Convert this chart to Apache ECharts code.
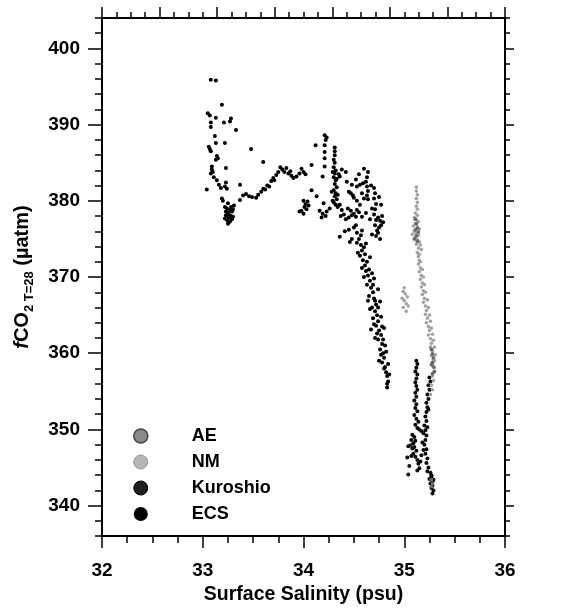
<!DOCTYPE html>
<html>
<head>
<meta charset="utf-8">
<script src="https://cdn.jsdelivr.net/npm/echarts@6/dist/echarts.min.js"></script>
<style>
  html, body { margin: 0; padding: 0; background: #fff; }
  #chart { width: 561px; height: 610px; }
</style>
</head>
<body>
<div id="chart"></div>
<script>
// Surface salinity (psu) vs fCO2 normalised to 28 °C (µatm), by water mass
const seriesNames = ['AE', 'NM', 'Kuroshio', 'ECS'];
const xTickLabels = [32, 33, 34, 35, 36];
const yTickLabels = [340, 350, 360, 370, 380, 390, 400];
const yMinorTicks = [336, 338, 340, 342, 344, 346, 348, 350, 352, 354, 356, 358, 360, 362, 364, 366, 368, 370,
  372, 374, 376, 378, 380, 382, 384, 386, 388, 390, 392, 394, 396, 398, 400, 402, 404];

// East China Sea shelf water
const ecs = [
  [33.08,395.9],[33.13,395.8],[33.19,392.6],[33.05,391.5],[33.07,391.2],[33.13,390.9],[33.08,390.3],[33.08,389.7],
  [33.21,390.3],[33.28,390.8],[33.27,390.4],[33.33,389.3],[33.12,388.5],[33.13,387.6],[33.22,387.6],[33.06,387.1],
  [33.07,386.8],[33.08,386.5],[33.48,386.8],[33.14,385.9],[33.15,385.6],[33.13,385.4],[33.60,385.1],[33.09,384.5],
  [33.09,384.1],[33.10,383.8],[33.08,383.6],[33.23,384.3],[33.11,383.1],[33.14,382.7],[33.04,381.5],[33.16,382.1],
  [33.18,381.7],[33.23,382.4],[33.22,381.9],[33.24,381.6],[33.37,382.1],[33.19,380.3],[33.20,380.0],[33.25,379.7],
  [33.22,379.2],[33.24,379.0],[33.27,378.8],[33.25,378.4],[33.29,378.6],[33.23,378.1],[33.26,377.8],[33.28,378.0],
  [33.24,377.5],[33.27,377.3],[33.30,378.9],[33.31,379.4],[33.25,377.0],[33.26,377.2],[33.29,377.6],
  [33.23,378.6],[33.28,379.2],[33.26,378.2],[33.30,377.9],[33.22,377.7],
  [33.37,380.1],[33.40,380.7],[33.43,380.9],[33.46,380.6],[33.49,380.5],[33.53,380.4],[33.55,380.8],[33.58,381.2],
  [33.60,381.6],[33.62,381.5],[33.64,382.0],[33.66,381.9],[33.68,382.6],[33.70,383.0],[33.71,382.7],[33.73,383.4],
  [33.75,383.8],[33.77,384.4],[33.79,384.1],[33.81,383.8],[33.83,384.3],[33.85,383.6],[33.87,383.9],[33.88,383.3],
  [33.90,383.0],[33.93,383.2],[33.96,383.6],[33.98,384.2],[34.00,383.8],[34.02,383.5],[33.96,378.6],
  [34.08,384.7],[34.12,387.3],[34.21,388.6],[34.23,388.3],[34.22,388.0],[34.21,387.3],[34.21,386.4],[34.21,385.6],
  [34.21,384.5],[34.19,383.2],[34.31,387.0],[34.31,386.5],[34.31,386.0],[34.30,385.4],[34.31,385.0],
  [34.30,384.4],[34.32,384.0],[34.31,383.6],[34.30,383.1],[34.32,382.7],[34.31,382.2],[34.33,381.8],[34.30,381.4],
  [34.32,381.0],[34.31,380.6],[34.33,380.2],[34.30,379.8],[34.32,379.5],[34.34,379.2],[34.29,380.0],[34.33,382.9],
  [34.28,381.2],[34.34,380.8],[34.35,383.5],[34.29,383.8],
  [34.38,384.1],[34.36,383.2],[34.43,382.5],[34.48,382.1],
  [34.08,381.4],[34.13,380.6],[34.20,379.7],[34.26,379.0],
  [34.00,380.0],[34.02,379.6],[34.04,379.9],[34.01,379.2],[34.05,379.4],[33.98,378.7],[34.00,378.3],[34.03,378.9],
  [34.16,378.7],[34.19,378.3],[34.22,378.0],[34.18,377.8],[34.23,378.6],
  [34.36,379.5],[34.38,378.8],[34.40,378.2],[34.42,377.6],[34.37,378.0],
  [34.44,379.0],[34.47,378.7],[34.50,378.3],[34.45,377.8],[34.52,377.9],[34.48,378.1],[34.53,378.8],
  [34.47,381.0],[34.50,380.4],[34.53,380.0],[34.56,379.5],[34.49,380.7],
  [34.45,381.2],[34.42,383.8],[34.52,382.8],[34.55,383.5],[34.60,384.2],[34.67,382.0],[34.68,379.0],[34.66,377.6],
  [34.62,378.4],[34.58,377.9],[34.55,378.5],[34.75,380.5],[34.77,379.5],[34.74,375.8],[34.76,375.0],[34.68,375.6],
  [34.64,383.8],[34.63,383.1],[34.62,382.5],[34.63,381.9],[34.64,381.3],[34.63,380.7],[34.64,380.2],[34.59,382.3],
  [34.56,382.1],[34.53,381.9],[34.58,381.0],[34.60,380.3],
  [34.70,381.7],[34.71,381.0],[34.70,380.3],[34.72,379.6],[34.71,378.9],[34.70,378.2],[34.72,377.5],[34.71,376.8],
  [34.73,376.1],[34.72,375.4],
  [34.74,377.8],[34.76,377.4],[34.78,378.0],[34.77,376.8],[34.75,376.5],[34.79,377.2],
  [34.36,375.3],[34.46,374.6],[34.53,374.5],[34.41,376.0],
  [34.50,376.5],[34.53,375.8],[34.55,375.0],[34.57,374.2],[34.58,373.5],[34.60,373.9],[34.56,372.8],[34.59,372.2],
  [34.61,371.5],[34.63,372.0],[34.62,370.8],[34.64,370.2],[34.66,369.5],[34.63,369.0],[34.67,368.6],[34.69,368.0],
  [34.65,367.5],[34.70,367.2],[34.72,366.4],[34.68,366.0],[34.71,365.5],[34.73,365.0],[34.74,364.2],[34.72,363.6],
  [34.75,363.0],[34.77,362.4],[34.74,361.8],[34.78,361.2],[34.76,360.5],[34.79,360.0],[34.80,359.4],[34.78,358.8],
  [34.81,358.2],[34.82,357.5],[34.83,357.0],[34.84,356.3],[34.83,356.0],
  [34.68,370.5],[34.70,369.8],[34.74,368.4],[34.76,366.8],[34.60,370.0],[34.64,366.9],[34.80,363.3],[34.81,361.0],
  [34.69,364.6],[34.66,372.6],[34.62,374.4],[34.58,376.1],[34.54,373.2],[34.67,363.1],[34.71,362.0],[34.75,359.0],
  [34.45,376.2],[34.48,375.0],[34.52,376.8],[34.57,375.5],[34.61,373.0],[34.65,371.0],[34.58,371.2],[34.69,369.0],
  [34.71,366.9],[34.66,365.8],[34.74,366.0],[34.77,364.8],[34.70,363.8],[34.78,363.5],[34.73,362.6],[34.79,361.8],
  [34.82,360.2],[34.77,359.8],[34.80,358.0],[34.85,357.2],[34.84,358.6],[34.83,355.5]
];

// Kuroshio water
const kuroshio = [
  [35.12,359.0],[35.13,358.6],[35.12,358.1],[35.11,357.6],[35.13,357.2],[35.12,356.7],[35.11,356.2],[35.12,355.7],
  [35.13,355.2],[35.11,354.8],[35.12,354.3],[35.10,353.8],[35.12,353.3],[35.11,352.8],[35.13,352.4],[35.10,351.9],
  [35.12,351.4],[35.14,351.0],[35.11,350.6],[35.13,350.2],[35.15,350.0],[35.17,349.8],[35.19,349.5],
  [35.08,349.3],[35.10,349.0],[35.07,348.6],[35.09,348.2],[35.11,348.5],[35.06,347.9],[35.08,347.5],[35.10,347.7],
  [35.12,347.2],[35.09,346.8],[35.11,346.4],[35.13,346.0],[35.07,346.5],[35.04,347.8],[35.03,346.3],[35.05,345.2],
  [35.14,345.5],[35.15,344.9],[35.16,345.8],[35.13,344.6],[35.17,346.6],[35.04,344.1],
  [35.25,356.8],[35.26,356.3],[35.24,355.8],[35.25,355.2],[35.23,354.6],[35.24,354.0],[35.22,353.5],[35.23,352.9],
  [35.22,352.3],[35.21,351.7],[35.22,351.1],[35.20,350.5],[35.21,349.9],[35.22,349.2],[35.21,348.6],[35.20,348.0],
  [35.22,347.4],[35.21,346.8],[35.23,346.2],[35.22,345.6],[35.24,345.0],[35.23,344.5],[35.19,347.3],[35.18,348.3],
  [35.24,352.6],[35.23,350.3],
  [35.26,344.3],[35.27,343.8],[35.25,343.5],[35.28,343.2],[35.26,342.9],[35.28,342.6],[35.27,342.3],[35.29,342.0],
  [35.28,341.6],[35.27,344.0],[35.29,343.4]
];

// NM water
const nm = [
  [35.12,381.8],[35.12,381.3],[35.13,380.8],[35.12,380.3],[35.13,379.8],[35.12,379.3],[35.13,378.9],
  [35.11,378.4],[35.13,378.1],[35.10,377.8],[35.12,377.5],[35.14,377.3],[35.11,377.0],[35.09,376.7],[35.13,376.6],
  [35.15,376.3],[35.10,376.0],[35.12,375.7],[35.14,375.5],[35.08,375.6],[35.11,375.2],[35.13,374.9],[35.15,374.6],
  [35.16,374.2],[35.12,374.3],[35.14,373.8],[35.17,373.6],
  [35.13,373.2],[35.14,372.7],[35.15,372.2],[35.14,371.7],[35.16,371.2],[35.15,370.7],[35.17,370.2],[35.16,369.7],
  [35.18,369.2],[35.17,368.7],[35.19,368.2],[35.18,367.7],[35.20,367.2],[35.19,366.7],[35.21,366.2],[35.22,365.6],
  [35.21,365.1],[35.23,364.6],[35.22,364.0],[35.24,363.5],[35.25,363.0],[35.24,362.4],[35.26,361.9],[35.27,361.3],
  [35.26,360.8],[35.28,360.3],[35.27,359.7],[35.29,359.2],[35.28,358.6],[35.30,358.1],[35.29,357.5],[35.28,357.0],
  [35.29,356.4],[35.27,355.8],[35.28,355.2],[35.26,354.6],
  [35.15,373.0],[35.16,372.0],[35.18,371.0],[35.19,370.0],[35.20,369.0],[35.21,368.0],[35.23,367.0],[35.24,366.0],
  [35.25,365.0],[35.26,364.2],[35.27,363.3],[35.28,362.5],[35.29,361.7],[35.30,360.8],[35.31,359.8],[35.30,359.0],
  [34.99,368.1],[35.01,367.8],[34.98,367.2],[35.00,366.9],[35.02,366.5],[35.03,367.4],[34.99,366.0],[35.02,365.5],
  [35.04,366.2],[35.00,368.6]
];

// AE water
const ae = [
  [35.11,377.6],[35.12,377.0],[35.13,376.4],[35.11,376.2],[35.12,375.4],[35.14,375.9],[35.13,374.7],[35.10,375.0],
  [35.27,360.5],[35.28,359.9],[35.29,359.4],[35.28,358.8],[35.29,358.2],[35.27,358.5],[35.30,357.6],[35.28,357.3],
  [35.27,343.4],[35.28,342.9],[35.27,342.5]
];

const FONT = '"Liberation Sans", Arial, Helvetica, sans-serif';
const chart = echarts.init(document.getElementById('chart'), null, { renderer: 'canvas' });

const lineStyle = { color: '#000', width: 2 };
const tickStyle = { color: '#000', width: 1.5 };

function scatter(name, data, color, size) {
  return {
    name: name,
    type: 'scatter',
    data: data,
    symbol: 'circle',
    symbolSize: size,
    itemStyle: { color: color, opacity: 1 },
    xAxisIndex: 0,
    yAxisIndex: 0,
    silent: true,
    animation: false
  };
}

chart.setOption({
  animation: false,
  backgroundColor: '#fff',
  grid: { left: 102, right: 56, top: 18, bottom: 72, containLabel: false },
  xAxis: [
    {
      type: 'value', position: 'bottom', min: 32, max: 36, interval: 1,
      name: 'Surface Salinity (psu)', nameLocation: 'middle', nameGap: 45,
      nameTextStyle: { fontFamily: FONT, fontWeight: 'bold', fontSize: 19.5, color: '#000' },
      axisLine: { show: true, lineStyle: lineStyle },
      axisTick: { show: true, inside: false, length: 12, lineStyle: tickStyle },
      minorTick: { show: true, splitNumber: 4, length: 7, lineStyle: tickStyle },
      axisLabel: {
        show: true, margin: 25, fontFamily: FONT, fontWeight: 'bold', fontSize: 19, color: '#000',
        formatter: function (v) { return xTickLabels.indexOf(v) >= 0 ? String(v) : ''; }
      },
      splitLine: { show: false }
    },
    {
      type: 'value', position: 'top', min: 0, max: 7, interval: 1,
      axisLine: { show: true, lineStyle: lineStyle },
      axisTick: { show: true, inside: false, length: 11, lineStyle: tickStyle },
      minorTick: { show: true, splitNumber: 4, length: 6, lineStyle: tickStyle },
      axisLabel: { show: false },
      splitLine: { show: false }
    }
  ],
  yAxis: [
    {
      type: 'value', position: 'left', min: 336, max: 404,
      name: '{i|f}{n|CO}{sub|2 T=28}{n| (µatm)}', nameLocation: 'middle', nameGap: 66,
      nameTextStyle: {
        fontFamily: FONT, fontWeight: 'bold', fontSize: 20, color: '#000',
        rich: {
          i: { fontFamily: FONT, fontWeight: 'bold', fontStyle: 'italic', fontSize: 20, lineHeight: 28, verticalAlign: 'middle', color: '#000' },
          n: { fontFamily: FONT, fontWeight: 'bold', fontSize: 20, lineHeight: 28, verticalAlign: 'middle', color: '#000' },
          sub: { fontFamily: FONT, fontWeight: 'bold', fontSize: 13, lineHeight: 28, verticalAlign: 'bottom', color: '#000' }
        }
      },
      axisLine: { show: true, lineStyle: lineStyle },
      axisTick: { show: true, inside: false, length: 14, lineStyle: tickStyle, customValues: yTickLabels },
      axisLabel: {
        show: true, margin: 22, fontFamily: FONT, fontWeight: 'bold', fontSize: 19, color: '#000',
        customValues: yTickLabels
      },
      splitLine: { show: false }
    },
    {
      type: 'value', position: 'left', min: 336, max: 404,
      axisLine: { show: false },
      axisTick: { show: true, inside: false, length: 7, lineStyle: tickStyle, customValues: yMinorTicks },
      axisLabel: { show: false },
      splitLine: { show: false }
    },
    {
      type: 'value', position: 'right', min: 336, max: 404,
      axisLine: { show: true, lineStyle: lineStyle },
      axisTick: { show: true, inside: false, length: 9, lineStyle: tickStyle, customValues: yTickLabels },
      axisLabel: { show: false },
      splitLine: { show: false }
    },
    {
      type: 'value', position: 'right', min: 336, max: 404,
      axisLine: { show: false },
      axisTick: { show: true, inside: false, length: 5, lineStyle: tickStyle, customValues: yMinorTicks },
      axisLabel: { show: false },
      splitLine: { show: false }
    }
  ],
  legend: {
    orient: 'vertical', left: 128, top: 422,
    itemWidth: 14, itemHeight: 14, itemGap: 8,
    icon: 'circle',
    textStyle: { fontFamily: FONT, fontWeight: 'bold', fontSize: 18, color: '#000', padding: [0, 0, 0, 39] },
    selectedMode: false,
    data: [
      { name: 'AE', itemStyle: { color: '#8a8a8a', borderColor: '#444', borderWidth: 1.5 } },
      { name: 'NM', itemStyle: { color: '#b5b5b5', borderColor: '#9a9a9a', borderWidth: 1 } },
      { name: 'Kuroshio', itemStyle: { color: '#1e1e1e', borderColor: '#000', borderWidth: 1 } },
      { name: 'ECS', itemStyle: { color: '#000' } }
    ]
  },
  series: [
    scatter(seriesNames[3], ecs, '#000', 4),
    scatter(seriesNames[2], kuroshio, '#0a0a0a', 4),
    scatter(seriesNames[1], nm, '#a3a3a3', 3.6),
    scatter(seriesNames[0], ae, '#6a6a6a', 3.8)
  ]
});
</script>
</body>
</html>
